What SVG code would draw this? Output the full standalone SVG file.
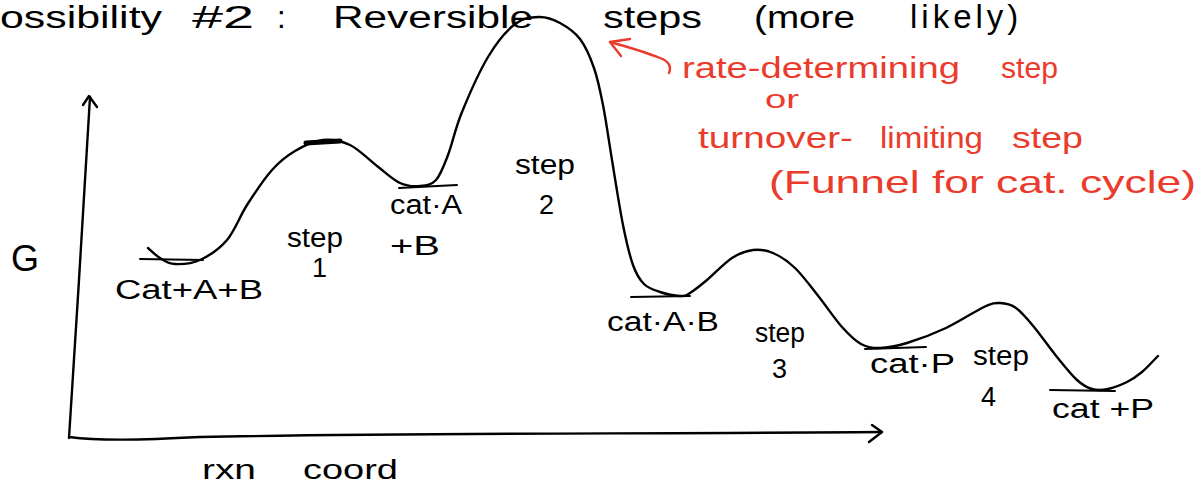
<svg xmlns="http://www.w3.org/2000/svg" width="1198" height="487" viewBox="0 0 1198 487">
<style>
.ink{fill:none;stroke:#000;stroke-width:2.4;stroke-linecap:round;stroke-linejoin:round}
.thin{fill:none;stroke:#000;stroke-width:2;stroke-linecap:round}
.red{fill:none;stroke:#ea3b2c;stroke-width:2.4;stroke-linecap:round;stroke-linejoin:round}
text{font-family:"Liberation Sans",Arial,sans-serif;fill:#000}
.t{font-size:31px}
.lb{font-size:27px}
.rt{font-size:30px;fill:#ea3b2c}
</style>
<rect width="1198" height="487" fill="#fff"/>
<g id="title">
<text class="t" x="0" y="28" textLength="162" lengthAdjust="spacingAndGlyphs">ossibility</text>
<text class="t" x="192" y="28" textLength="62" lengthAdjust="spacingAndGlyphs">#2</text>
<text class="t" x="277" y="28">:</text>
<text class="t" x="333" y="28" textLength="200" lengthAdjust="spacingAndGlyphs">Reversible</text>
<text class="t" x="603" y="28" textLength="99" lengthAdjust="spacingAndGlyphs">steps</text>
<text class="t" x="754" y="28" textLength="101" lengthAdjust="spacingAndGlyphs">(more</text>
<text class="t" x="910" y="28" style="font-size:33px;letter-spacing:4px">likely)</text>
</g>
<g id="axes">
<path class="ink" d="M69,438 C76,330 84,200 90,97"/>
<path class="ink" d="M83,105 L89,96 L97,107"/>
<path class="ink" d="M69,437 C100,441 140,440 200,437 C400,433 600,434 882,432"/>
<path class="ink" d="M872,425 L882,432 L869,442"/>
<text id="G" x="11" y="271" style="font-size:36px">G</text>
<text class="lb" x="202" y="479" textLength="54" lengthAdjust="spacingAndGlyphs">rxn</text>
<text class="lb" x="303" y="479" textLength="95" lengthAdjust="spacingAndGlyphs">coord</text>
</g>
<g id="connectors">
<path class="ink" d="M148,248 C150,249.7 155.5,255.3 160,258 C164.5,260.7 168.3,263.7 175,264 C181.7,264.3 191.3,264 200,260 C208.7,256 219.2,249.2 227,240 C234.8,230.8 239.5,216.7 247,205 C254.5,193.3 264,179 272,170 C280,161 286.5,156 295,151 C303.5,146 313.8,141 323,140 C332.2,139 341,140.7 350,145 C359,149.3 368.7,159.7 377,166 C385.3,172.3 392.8,179.7 400,183 C407.2,186.3 414,186.5 420,186 C426,185.5 431.3,185.2 436,180 C440.7,174.8 443.7,166.3 448,155 C452.3,143.7 455.3,128.3 462,112 C468.7,95.7 479.2,71.7 488,57 C496.8,42.3 506.5,30.7 515,24 C523.5,17.3 531.5,17.2 539,17 C546.5,16.8 553.2,19.3 560,23 C566.8,26.7 574.3,31.5 580,39 C585.7,46.5 590.2,57 594,68 C597.8,79 600,89.7 603,105 C606,120.3 608.7,140 612,160 C615.3,180 619.5,207.5 623,225 C626.5,242.5 629.5,255.2 633,265 C636.5,274.8 639.5,279.5 644,284 C648.5,288.5 654,290 660,292 C666,294 675,295.8 680,296 C685,296.2 685.5,295.7 690,293 C694.5,290.3 700,285.8 707,280 C714,274.2 724.3,263 732,258 C739.7,253 746.2,250.8 753,250 C759.8,249.2 766,250 773,253 C780,256 787.3,260.7 795,268 C802.7,275.3 811.2,287.2 819,297 C826.8,306.8 835,319.2 842,327 C849,334.8 854.7,340.5 861,344 C867.3,347.5 872.3,348.2 880,348 C887.7,347.8 896,346.3 907,343 C918,339.7 933.2,334 946,328 C958.8,322 975,311.2 984,307 C993,302.8 994.7,302.8 1000,303 C1005.3,303.2 1010.3,304 1016,308 C1021.7,312 1027.2,318.8 1034,327 C1040.8,335.2 1049.8,348.2 1057,357 C1064.2,365.8 1071.2,374.7 1077,380 C1082.8,385.3 1086.8,387.5 1092,389 C1097.2,390.5 1102.2,390.2 1108,389 C1113.8,387.8 1121.3,384.8 1127,382 C1132.7,379.2 1136.8,376.3 1142,372 C1147.2,367.7 1152.7,361.3 1158,356"/>
<path d="M306,143 L340,141" stroke="#000" stroke-width="5" stroke-linecap="round"/>
<path class="red" d="M669,73 C672,66 668,61 660,58 C645,52 628,47 610,42"/>
<path class="red" d="M630,39 L610,42 L621,56"/>
</g>
<g id="state-cat-A-B">
<path class="thin" d="M140,259 L203,260"/>
<text class="lb" x="115" y="299" textLength="148" lengthAdjust="spacingAndGlyphs">Cat+A+B</text>
</g>
<g id="step1">
<text class="lb" x="287" y="247" textLength="56" lengthAdjust="spacingAndGlyphs">step</text>
<text class="lb" x="312" y="277">1</text>
</g>
<g id="state-catA">
<path class="thin" d="M399,188 L457,185"/>
<text class="lb" x="390" y="214" textLength="72" lengthAdjust="spacingAndGlyphs">cat·A</text>
<text class="lb" x="390" y="255" textLength="50" lengthAdjust="spacingAndGlyphs">+B</text>
</g>
<g id="step2">
<text class="lb" x="515" y="174" textLength="60" lengthAdjust="spacingAndGlyphs">step</text>
<text class="lb" x="539" y="214">2</text>
</g>
<g id="state-catAB">
<path class="thin" d="M631,297 L690,296"/>
<text class="lb" x="607" y="331" textLength="112" lengthAdjust="spacingAndGlyphs">cat·A·B</text>
</g>
<g id="step3">
<text class="lb" x="755" y="342" textLength="50" lengthAdjust="spacingAndGlyphs">step</text>
<text class="lb" x="772" y="378">3</text>
</g>
<g id="state-catP">
<path class="thin" d="M865,349 L926,347"/>
<text class="lb" x="870" y="373" textLength="85" lengthAdjust="spacingAndGlyphs">cat·P</text>
</g>
<g id="step4">
<text class="lb" x="973" y="365" textLength="56" lengthAdjust="spacingAndGlyphs">step</text>
<text class="lb" x="981" y="406">4</text>
</g>
<g id="state-catplusP">
<path class="thin" d="M1050,390 L1115,391"/>
<text class="lb" x="1052" y="418" textLength="102" lengthAdjust="spacingAndGlyphs">cat +P</text>
</g>
<g id="rds-note">
<text class="rt" x="682" y="78" textLength="278" lengthAdjust="spacingAndGlyphs">rate-determining</text>
<text class="rt" x="1001" y="78" textLength="57" lengthAdjust="spacingAndGlyphs">step</text>
<text class="rt" x="765" y="108" style="font-size:26px" textLength="34" lengthAdjust="spacingAndGlyphs">or</text>
<text class="rt" x="698" y="148" textLength="155" lengthAdjust="spacingAndGlyphs">turnover-</text>
<text class="rt" x="880" y="148" textLength="103" lengthAdjust="spacingAndGlyphs">limiting</text>
<text class="rt" x="1012" y="148" textLength="71" lengthAdjust="spacingAndGlyphs">step</text>
<text class="rt" x="769" y="193" style="font-size:32px" textLength="427" lengthAdjust="spacingAndGlyphs">(Funnel for cat. cycle)</text>
</g>
</svg>
